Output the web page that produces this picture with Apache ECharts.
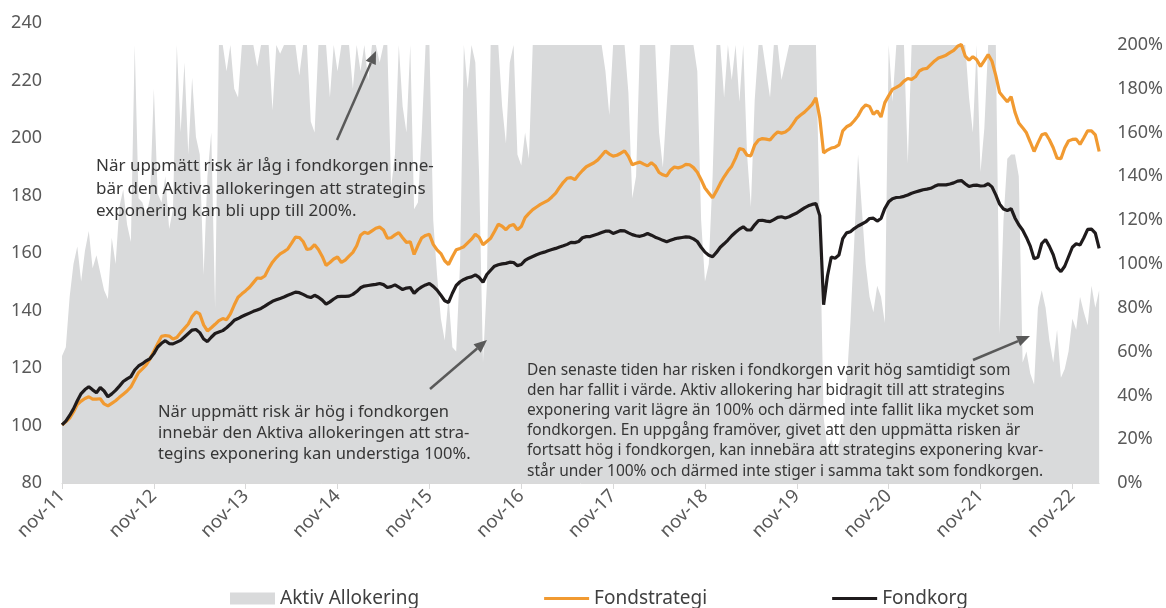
<!DOCTYPE html>
<html lang="sv">
<head>
    <meta charset="UTF-8">
    <title>Aktiv allokering</title>
    <script src="https://cdn.jsdelivr.net/npm/echarts@6/dist/echarts.min.js"></script>
    <style>
        html, body { margin: 0; padding: 0; background: #fff; }
        #chart { width: 1166px; height: 608px; }
    </style>
</head>
<body>
<div id="chart"></div>
<script type="text/javascript">

    // halvmånadsdatum, nov 2011 - feb 2023
    var dates = [];
    for (var m = 0; m < 136; m++) {
        var y = 2011 + Math.floor((10 + m) / 12);
        var mo = (10 + m) % 12 + 1;
        var mm = (mo < 10 ? '0' : '') + mo;
        dates.push(y + '-' + mm + '-01');
        dates.push(y + '-' + mm + '-15');
    }

    var fondkorg = [
        100.2,101.5,103.5,105.8,108.6,111.1,112.5,113.5,112.4,111.4,113.2,112,110,111,112.2,113.7,115.3,116.2,117,119.3,
        120.7,121.5,122.5,123.3,125,127.3,128.6,129.5,128.5,128.4,129,129.6,130.8,132,133.2,133.4,132.3,130.1,129.2,130.7,
        132,132.5,133,134,135.2,136.6,137.2,137.9,138.5,139.1,139.7,140.2,140.7,141.5,142.4,143.2,143.7,144.2,144.7,145.3,
        145.8,146.4,146.2,145.6,144.9,144.5,145.3,144.6,143.6,142.2,143,144,144.8,144.9,144.9,145,145.6,146.6,147.9,148.5,
        148.7,148.9,149.1,149.4,149,148,148.3,148.9,148.1,147.3,147.8,148,146,147.3,148.2,148.9,149.4,148.4,147.1,145.3,
        143.4,142.8,146,148.7,150,150.8,151.4,151.7,152.4,151.5,149.8,152.5,154,155.4,155.9,156.2,156.4,156.8,156.7,155.6,
        156,157.4,158.2,158.8,159.4,159.9,160.3,160.8,161.2,161.6,162.1,162.5,163,163.7,163.6,164,165.3,165.7,165.7,166.2,
        166.6,167.1,167.6,167.6,166.8,167.3,167.8,167.7,167,166.4,166,165.8,166.2,166.8,166.2,165.5,165,164.4,163.9,164.4,
        164.9,165.2,165.4,165.6,165.5,164.9,164,162,160.3,159.2,158.7,160.2,162,163.2,164.5,166,167.2,168.3,169.1,168,
        168,169.8,171.3,171.4,171.1,170.9,171.6,172.4,172.6,172.2,172.6,173.3,173.9,174.8,175.7,176.4,176.9,177.2,173,142,
        152,158.6,158.2,159.3,165,167,167.4,168.5,169.4,170.1,170.8,172,172.1,171.1,172,175.5,177.8,178.9,179.3,179.4,
        179.7,180.2,180.8,181.2,181.6,182,182.2,182.5,183.2,183.7,183.7,183.7,184,184.4,185,185.2,184.1,183.1,183.5,183.6,
        183.3,183.4,184.1,183,180.2,177,175.3,174.8,175.4,172.2,169.8,168,165.4,162.4,158,158.5,163.3,164.7,162.3,159.4,
        155,153.5,155.4,158.7,162,163.2,162.8,165.3,168.2,168.3,166.9,161.6
    ];

    var fondstrategi = [
        100.2,101.3,102.6,104.7,107.3,108.5,109.4,110,109.2,109.2,109.3,107.5,106.8,107.7,108.6,109.8,110.9,112,113.4,115.9,
        118.4,119.7,121.1,123.2,125.8,128.4,131,131.3,131.1,130.1,130.6,132.3,133.8,135.3,137.9,139.5,138.8,135,132.9,134,
        135.2,136.5,137.2,136.8,138.8,141.9,144.6,145.8,146.9,148.1,149.7,151.3,151.2,152,154.6,156.8,158.4,159.7,160.5,161.4,
        163.4,165.5,165.4,164,161.2,161.5,162.9,161.2,158.8,155.7,156.7,157.9,158.6,156.7,157.5,158.9,160.2,162.5,166.2,167.2,
        166.8,167.7,168.6,169,168,165.2,165.3,166.3,167.1,165.3,163.7,163.9,159.5,162.6,165.3,166.1,166.5,163,161.1,159.8,
        157.3,156,158.7,161.1,161.6,162.2,163.5,164.8,166.5,165.5,162.9,164,165.1,167.5,170,169.3,168.1,169.5,169.9,168.1,
        169.2,172.3,173.8,175.1,176,176.9,177.6,178.3,179.5,180.8,182.8,184.6,186,186.2,185.5,187.2,188.7,190,190.7,191.4,
        192.4,193.9,195.5,194.4,193.7,194,194.7,195.5,193.6,190.7,191.2,191.6,190.9,190.3,191.4,190.3,188,187.2,186.8,188.8,
        189.9,189.6,190,190.8,190.7,189.7,188.1,185.5,182.6,180.9,179.2,181.6,184.2,186.5,188.5,190.2,193,196.3,196,194,
        193.8,197.6,199.3,199.8,199.6,199.3,200.9,202.1,201.7,202.1,203.1,204.9,206.9,208,209,210.3,211.7,214,207,194.8,
        195.8,196.5,196.8,197.6,202.5,203.9,204.6,206,207.7,210.1,211.5,211,208.2,209.4,207.3,212.3,214.7,216.9,217.6,218.4,
        219.8,220.7,220.4,221.3,223.3,224,224.2,225.5,226.8,227.8,228.3,228.8,229.7,230.5,231.9,232.5,228.5,227.1,228.3,227.2,
        224.9,226.9,229,226.7,221.7,215.8,214.2,212.6,214.4,209,205.2,203.6,201.8,198.6,195.3,198.3,201.1,201.6,199.4,196.6,
        193,192.8,196.5,199,199.5,199.6,197.8,200.1,202.5,202.5,201.1,195.3
    ];

    // exponering i procent
    var aktivAllokering = [
        58,62,85,100,108,92,106,115,98,104,96,88,84,112,100,126,134,118,110,200,
        130,128,122,130,180,132,128,140,116,125,200,160,192,150,185,158,150,95,140,160,
        80,200,200,188,200,180,176,200,200,200,200,190,200,200,200,170,200,196,200,200,
        200,200,186,200,200,165,160,200,200,200,176,200,188,200,200,200,180,200,188,200,
        184,200,200,192,200,200,135,150,200,172,160,200,125,128,160,200,200,120,95,75,
        65,85,62,60,100,200,180,200,192,140,55,90,200,200,200,172,155,192,200,150,
        145,160,148,200,200,200,200,200,200,200,200,200,200,200,200,200,200,200,200,200,
        200,200,188,168,200,200,200,200,178,130,140,200,200,200,200,200,160,144,172,200,
        200,200,200,200,200,200,188,120,92,100,140,200,200,176,200,184,200,174,200,150,
        126,175,200,200,188,176,200,200,184,192,200,200,200,200,200,200,200,200,120,30,
        15,20,15,18,25,45,73,110,150,125,100,85,78,90,85,73,200,174,200,200,
        200,146,200,200,200,200,200,200,200,200,200,200,200,200,200,200,200,176,160,200,
        142,162,200,200,200,68,120,148,150,150,140,55,60,50,45,80,88,80,65,55,
        70,48,52,60,75,70,85,78,72,90,80,88
    ];

    var leftTicks = { min: 80, max: 240, step: 20 };
    var rightTicks = { min: 0, max: 210, step: 20 };

    var isNovTick = function (index, value) {
        return value.slice(5) === '11-01';
    };

    var myChart = echarts.init(document.getElementById('chart'));

    var fontFam = '"Noto Sans", "Open Sans", sans-serif';
    var textCol = '#363636';
    var lineIcon = 'path://M0,0 L45,0 L45,3 L0,3 Z';

    // pilar, ritas som grafik
    function arrow(x1, y1, x2, y2) {
        var ang = Math.atan2(y2 - y1, x2 - x1);
        var len = 13, w = 5.5;
        var bx = x2 - len * Math.cos(ang), by = y2 - len * Math.sin(ang);
        var px = -Math.sin(ang) * w, py = Math.cos(ang) * w;
        return [
            {
                type: 'line', z: 100,
                shape: { x1: x1, y1: y1, x2: bx, y2: by },
                style: { stroke: '#595959', lineWidth: 2.5 }
            },
            {
                type: 'polygon', z: 100,
                shape: { points: [[x2, y2], [bx + px, by + py], [bx - px, by - py]] },
                style: { fill: '#595959' }
            }
        ];
    }

    var graphics = [
        {
            type: 'text', left: 96, top: 155, z: 100,
            style: {
                text: 'När uppmätt risk är låg i fondkorgen inne-\nbär den Aktiva allokeringen att strategins\nexponering kan bli upp till 200%.',
                font: '17px ' + fontFam, fill: textCol, lineHeight: 22.5
            }
        },
        {
            type: 'text', left: 158, top: 402, z: 100,
            style: {
                text: 'När uppmätt risk är hög i fondkorgen\ninnebär den Aktiva allokeringen att stra-\ntegins exponering kan understiga 100%.',
                font: '16.5px ' + fontFam, fill: textCol, lineHeight: 21
            }
        },
        {
            type: 'text', left: 527, top: 360, z: 100,
            style: {
                text: 'Den senaste tiden har risken i fondkorgen varit hög samtidigt som\nden har fallit i värde. Aktiv allokering har bidragit till att strategins\nexponering varit lägre än 100% och därmed inte fallit lika mycket som\nfondkorgen. En uppgång framöver, givet att den uppmätta risken är\nfortsatt hög i fondkorgen, kan innebära att strategins exponering kvar-\nstår under 100% och därmed inte stiger i samma takt som fondkorgen.',
                font: '15.5px ' + fontFam, fill: textCol, lineHeight: 20.2
            }
        }
    ].concat(arrow(337, 140, 376, 51), arrow(430, 389, 487, 340), arrow(973, 360, 1030, 336));

    var option = {
        animation: false,
        grid: { left: 62, right: 66, top: 23, bottom: 125 },
        legend: {
            left: 225,
            top: 584,
            itemWidth: 45,
            itemHeight: 12,
            itemGap: 125,
            textStyle: { fontSize: 19, color: '#404040', fontFamily: fontFam },
            data: [
                { name: 'Aktiv Allokering', icon: 'rect' },
                { name: 'Fondstrategi', icon: lineIcon },
                { name: 'Fondkorg', icon: lineIcon }
            ]
        },
        xAxis: {
            type: 'category',
            data: dates,
            boundaryGap: false,
            axisLine: { lineStyle: { color: '#d9d9d9' } },
            axisTick: { show: true, interval: isNovTick, length: 6, lineStyle: { color: '#d9d9d9' } },
            axisLabel: {
                interval: isNovTick,
                rotate: 45,
                margin: 10,
                fontSize: 18.5,
                color: '#595959',
                fontFamily: fontFam,
                formatter: function (v) { return 'nov-' + v.slice(2, 4); }
            },
            splitLine: { show: false }
        },
        yAxis: [
            {
                type: 'value',
                min: leftTicks.min, max: leftTicks.max, interval: leftTicks.step,
                axisLine: { show: false },
                axisTick: { show: false },
                splitLine: { show: false },
                axisLabel: { fontSize: 18, color: '#595959', fontFamily: fontFam, margin: 20 }
            },
            {
                type: 'value',
                position: 'right',
                min: rightTicks.min, max: rightTicks.max, interval: rightTicks.step,
                axisLine: { show: false },
                axisTick: { show: false },
                splitLine: { show: false },
                axisLabel: {
                    fontSize: 18, color: '#595959', fontFamily: fontFam, margin: 18,
                    showMaxLabel: false,
                    formatter: function (v) { return v > 200 ? '' : v + '%'; }
                }
            }
        ],
        series: [
            {
                name: 'Aktiv Allokering',
                type: 'line',
                yAxisIndex: 1,
                data: aktivAllokering,
                symbol: 'none',
                lineStyle: { width: 0 },
                itemStyle: { color: '#D9DADB' },
                areaStyle: { color: '#D9DADB', opacity: 1 },
                z: 1
            },
            {
                name: 'Fondstrategi',
                type: 'line',
                data: fondstrategi,
                symbol: 'none',
                lineStyle: { width: 3.2, color: '#F19A31' },
                itemStyle: { color: '#F19A31' },
                z: 3
            },
            {
                name: 'Fondkorg',
                type: 'line',
                data: fondkorg,
                symbol: 'none',
                lineStyle: { width: 3.2, color: '#1f1b1c' },
                itemStyle: { color: '#1f1b1c' },
                z: 4
            }
        ],
        graphic: graphics
    };

    myChart.setOption(option);
</script>
</body>
</html>
